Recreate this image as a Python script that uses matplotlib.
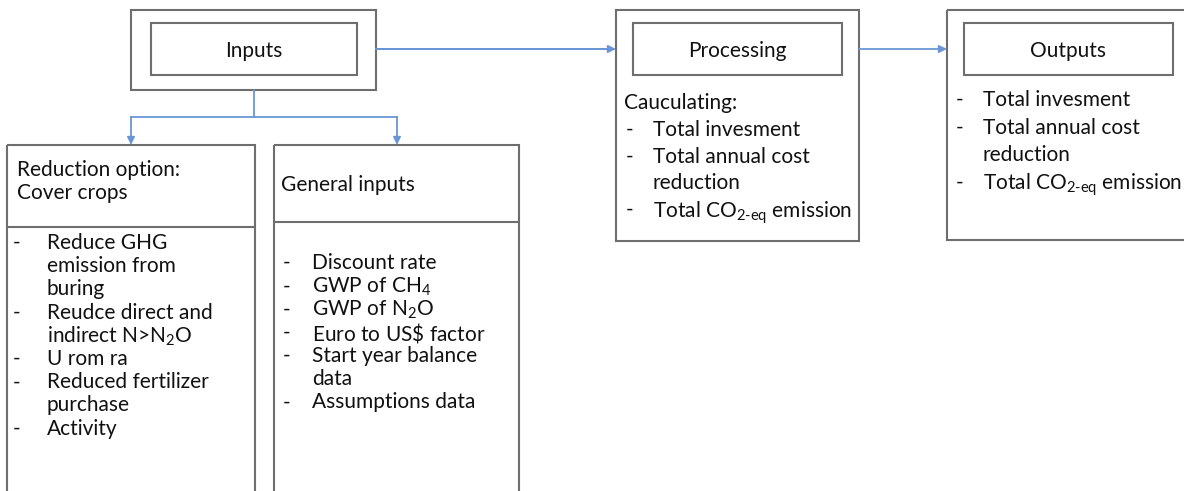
import matplotlib
matplotlib.use("Agg")
import matplotlib.pyplot as plt
from matplotlib.patches import Rectangle

FONT = "Lato"
plt.rcParams['font.family'] = [FONT, 'DejaVu Sans']
plt.rcParams['mathtext.fontset'] = 'custom'
plt.rcParams['mathtext.rm'] = FONT
plt.rcParams['mathtext.it'] = FONT + ':italic'
plt.rcParams['mathtext.bf'] = FONT + ':bold'

# ---- content ----
title_inputs = "Inputs"
title_processing = "Processing"
title_outputs = "Outputs"
reduction_header = ["Reduction option:", "Cover crops"]
reduction_lines = [("-", "Reduce GHG"), ("", "emission from"), ("", "buring"),
                   ("-", "Reudce direct and"), ("", r"indirect N>N$_2$O"),
                   ("-", "U rom ra"), ("-", "Reduced fertilizer"), ("", "purchase"),
                   ("-", "Activity")]
general_header = ["General inputs"]
general_lines = [("-", "Discount rate"), ("-", r"GWP of CH$_4$"), ("-", r"GWP of N$_2$O"),
                 ("-", "Euro to US$\\$$ factor"), ("-", "Start year balance"), ("", "data"),
                 ("-", "Assumptions data")]
processing_header = ["Cauculating:"]
processing_lines = [("-", "Total invesment"), ("-", "Total annual cost"), ("", "reduction"),
                    ("-", r"Total CO$_{\text{2-eq}}$ emission")]
outputs_lines = [("-", "Total invesment"), ("-", "Total annual cost"), ("", "reduction"),
                 ("-", r"Total CO$_{\text{2-eq}}$ emission")]

W, H = 1184, 491
fig = plt.figure(figsize=(W / 100, H / 100), dpi=100)
ax = fig.add_axes([0, 0, 1, 1])
ax.set_xlim(0, W)
ax.set_ylim(H, 0)
ax.axis('off')

EDGE = '#6e6e6e'
BLUE = '#6a96d6'
LW = 1.5
FS = 15.0
TXT = '#111111'


def box(x0, y0, x1, y1):
    ax.add_patch(Rectangle((x0, y0), x1 - x0, y1 - y0, fill=False,
                           edgecolor=EDGE, linewidth=LW, clip_on=False))


def hline(x0, x1, y, color=EDGE):
    ax.plot([x0, x1], [y, y], color=color, lw=LW, solid_capstyle='butt')


def arrow(x0, y0, x1, y1):
    ax.annotate('', xy=(x1, y1), xytext=(x0, y0),
                arrowprops=dict(arrowstyle='-|>,head_length=0.45,head_width=0.22',
                                color=BLUE, lw=1.3, shrinkA=0, shrinkB=0))


def put(x, y, t, ha='left'):
    ax.text(x, y, t, fontsize=FS, va='center_baseline', ha=ha, color=TXT)


def lines(x_dash, x_text, y0, dy, items):
    for i, (d, t) in enumerate(items):
        y = y0 + i * dy
        if d:
            put(x_dash, y, d)
        put(x_text, y, t)


# Inputs block
box(131, 10, 376, 90)
box(151, 23, 357, 75)
put(254, 49, title_inputs, ha='center')

# Processing block
box(616, 10, 859, 241)
box(633, 23, 842, 75)
put(737, 49, title_processing, ha='center')

# Outputs block
box(947, 10, 1200, 240)
box(964, 23, 1173, 75)
put(1068, 49, title_outputs, ha='center')

# connectors
ax.plot([376, 612], [49, 49], color=BLUE, lw=1.3)
arrow(376, 49, 616, 49)
arrow(859, 49, 947, 49)
ax.plot([254, 254], [90, 117], color=BLUE, lw=1.3)
ax.plot([131, 397], [117, 117], color=BLUE, lw=1.3)
arrow(131, 117, 131, 145)
arrow(397, 117, 397, 145)

# Reduction option box
box(7, 145, 255, 520)
hline(7, 255, 227)
for i, t in enumerate(reduction_header):
    put(17, 168 + i * 23, t)
lines(13, 47, 241, 23.2, reduction_lines)

# General inputs box
box(274, 145, 519, 520)
hline(274, 519, 222)
put(281, 183, general_header[0])
lines(283, 312, 261, 23.2, general_lines)

# Processing text
put(624, 101, processing_header[0])
lines(626, 653, 128, 26.7, processing_lines)

# Outputs text
lines(956, 983, 98, 27.5, outputs_lines)

fig.savefig('out.png', dpi=100)
